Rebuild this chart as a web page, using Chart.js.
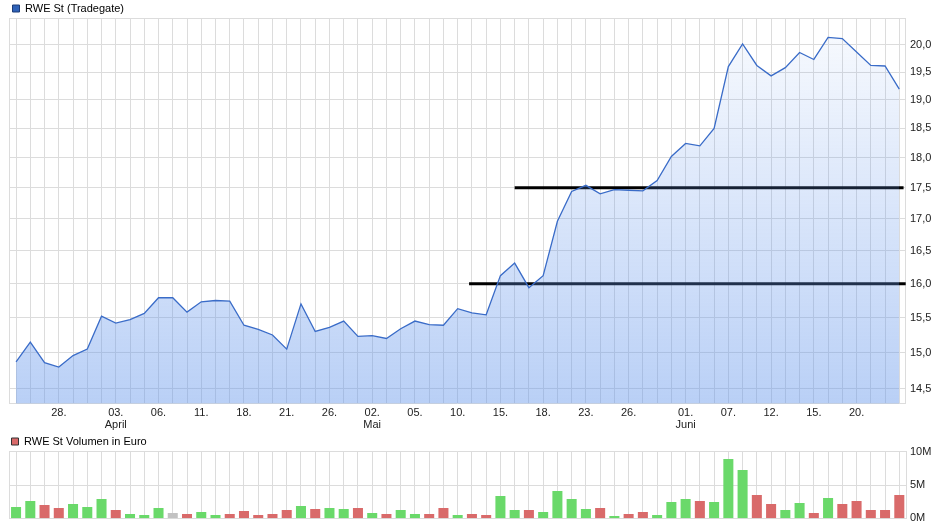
<!DOCTYPE html>
<html>
<head>
<meta charset="utf-8">
<script src="https://cdn.jsdelivr.net/npm/chart.js@4/dist/chart.umd.min.js"></script>
<style>
  body { margin: 0; background: #fff; }
  #wrap { position: relative; width: 947px; height: 530px; }
  #priceChart { position: absolute; left: 0; top: 0; }
  #volChart { position: absolute; left: 0; top: 434px; }
</style>
</head>
<body>
<div id="wrap">
  <canvas id="priceChart" width="947" height="434"></canvas>
  <canvas id="volChart" width="947" height="96"></canvas>
</div>
<script>
// trading days (Tradegate), 23.03. - 23.06.
const days = [
    '23.03.', '24.03.', '27.03.', '28.03.', '29.03.', '30.03.', '31.03.',
    '03.04.', '04.04.', '05.04.', '06.04.', '07.04.', '10.04.', '11.04.', '12.04.', '13.04.',
    '18.04.', '19.04.', '20.04.', '21.04.', '24.04.', '25.04.', '26.04.', '27.04.', '28.04.',
    '02.05.', '03.05.', '04.05.', '05.05.', '08.05.', '09.05.', '10.05.', '11.05.', '12.05.',
    '15.05.', '16.05.', '17.05.', '18.05.', '19.05.', '22.05.', '23.05.', '24.05.', '25.05.',
    '26.05.', '29.05.', '30.05.', '31.05.',
    '01.06.', '02.06.', '06.06.', '07.06.', '08.06.', '09.06.', '12.06.', '13.06.', '14.06.',
    '15.06.', '16.06.', '19.06.', '20.06.', '21.06.', '22.06.', '23.06.'
];

const price = [
    14.87, 15.15, 14.86, 14.80, 14.96, 15.05, 15.52, 15.42, 15.47, 15.56,
    15.79, 15.79, 15.58, 15.73, 15.75, 15.74, 15.39, 15.33, 15.25, 15.05,
    15.70, 15.30, 15.36, 15.45, 15.23, 15.24, 15.20, 15.34, 15.45, 15.40,
    15.39, 15.63, 15.57, 15.54, 16.12, 16.31, 15.94, 16.12, 16.96, 17.44,
    17.54, 17.40, 17.47, 17.46, 17.45, 17.62, 18.02, 18.24, 18.20, 18.50,
    19.60, 20.02, 19.62, 19.43, 19.58, 19.86, 19.73, 20.14, 20.12, 19.87,
    19.62, 19.61, 19.19
];

// volume in million euro
const volume = [
    1.7, 2.6, 2.0, 1.55, 2.15, 1.7, 2.9, 1.25, 0.65, 0.5,
    1.55, 0.8, 0.65, 0.95, 0.5, 0.65, 1.1, 0.5, 0.65, 1.25,
    1.85, 1.4, 1.55, 1.4, 1.55, 0.8, 0.65, 1.25, 0.65, 0.65,
    1.55, 0.5, 0.65, 0.5, 3.35, 1.25, 1.25, 0.95, 4.1, 2.9,
    1.4, 1.55, 0.35, 0.65, 0.95, 0.5, 2.45, 2.9, 2.6, 2.45,
    8.9, 7.25, 3.5, 2.15, 1.25, 2.3, 0.8, 3.05, 2.15, 2.6,
    1.25, 1.25, 3.5
];

const labelDays = ['28.03.', '03.04.', '06.04.', '11.04.', '18.04.', '21.04.', '26.04.',
    '02.05.', '05.05.', '10.05.', '15.05.', '18.05.', '23.05.', '26.05.',
    '01.06.', '07.06.', '12.06.', '15.06.', '20.06.'];
const monthDays = ['03.04.', '02.05.', '01.06.'];
const monthNames = ['April', 'Mai', 'Juni'];

const priceTicks = [14.5, 15.0, 15.5, 16.0, 16.5, 17.0, 17.5, 18.0, 18.5, 19.0, 19.5, 20.0];
const volTicks = [0, 5, 10];

// support lines: level, first day (fractional index), last day
const levels = [16.0, 17.5];
const levelFrom = [31.8, 35.0];
const levelTo = [62.45, 62.3];

const xMin = -0.46, xMax = 62.47;
const yMin = 14.31, yMax = 20.51;

const font = { family: "'Liberation Sans', Arial, sans-serif", size: 11 };
const gridColor = '#dcdcdc';
const green = '#6ad96a', red = '#d96a6a', grey = '#c2c2c2';

Chart.defaults.font.family = font.family;
Chart.defaults.font.size = font.size;
Chart.defaults.color = '#222';

function dayTicks(axis) {
    axis.ticks = days.map((d, i) => ({value: i}));
}

function dayLabel(value) {
    if (!Number.isInteger(value)) return '';
    const d = days[value];
    if (!d || labelDays.indexOf(d) < 0) return '';
    const txt = d.slice(0, 3);
    const m = monthDays.indexOf(d);
    return m >= 0 ? [txt, monthNames[m]] : txt;
}

function fillGradient(ctx) {
    const chart = ctx.chart;
    const area = chart.chartArea;
    if (!area) return 'rgba(100,150,235,0.3)';
    const g = chart.ctx.createLinearGradient(0, area.top, 0, area.bottom);
    g.addColorStop(0, 'rgba(100,150,235,0.04)');
    g.addColorStop(1, 'rgba(100,150,235,0.45)');
    return g;
}

// left axis without width, only its border closes the plot frame
const leftFrame = {
    position: 'left',
    grid: { display: false, drawTicks: false },
    border: { color: gridColor },
    ticks: { display: false },
    afterFit: axis => { axis.width = 0; }
};

const priceData = price.map((v, i) => ({x: i, y: v}));
const levelSets = levels.map((lv, k) => ({
    type: 'line',
    data: [{x: levelFrom[k], y: lv}, {x: levelTo[k], y: lv}],
    borderColor: '#000',
    borderWidth: 3,
    pointRadius: 0,
    fill: false
}));

new Chart(document.getElementById('priceChart'), {
    type: 'line',
    data: {
        datasets: [{
            label: 'RWE St (Tradegate)',
            data: priceData,
            borderColor: '#3a6cc8',
            borderWidth: 1.3,
            backgroundColor: fillGradient,
            fill: 'start',
            pointRadius: 0,
            tension: 0
        }].concat(levelSets)
    },
    options: {
        responsive: false,
        animation: false,
        layout: { padding: { left: 9.5, right: 11.6, top: 0, bottom: 0 } },
        plugins: {
            tooltip: { enabled: false },
            legend: {
                position: 'top',
                align: 'start',
                maxHeight: 18,
                labels: {
                    boxWidth: 7,
                    boxHeight: 7,
                    padding: 3,
                    font: font,
                    generateLabels: () => [{
                        text: 'RWE St (Tradegate)',
                        fillStyle: '#2f62b8',
                        strokeStyle: '#1c3c78',
                        lineWidth: 1,
                        datasetIndex: 0
                    }]
                }
            }
        },
        scales: {
            x: {
                type: 'linear',
                min: xMin,
                max: xMax,
                afterBuildTicks: dayTicks,
                grid: { color: gridColor, drawTicks: false },
                border: { color: gridColor },
                ticks: {
                    autoSkip: false,
                    maxRotation: 0,
                    padding: 3,
                    font: { size: 11, lineHeight: 1.1 },
                    callback: dayLabel
                }
            },
            yl: Object.assign({ type: 'logarithmic', min: yMin, max: yMax }, leftFrame),
            y: {
                type: 'logarithmic',
                position: 'right',
                min: yMin,
                max: yMax,
                afterBuildTicks: axis => {
                    axis.ticks = priceTicks.map(v => ({value: v})).concat([{value: yMax}]);
                },
                grid: { color: gridColor, drawTicks: false },
                border: { color: gridColor },
                ticks: {
                    padding: 4,
                    font: font,
                    callback: v => priceTicks.indexOf(v) >= 0 ? v.toFixed(1).replace('.', ',') : ''
                }
            }
        }
    }
});

new Chart(document.getElementById('volChart'), {
    type: 'bar',
    data: {
        datasets: [{
            label: 'RWE St Volumen in Euro',
            data: volume.map((v, i) => ({x: i, y: v})),
            backgroundColor: volume.map((v, i) => {
                if (i === 0) return green;
                const d = price[i] - price[i - 1];
                return d > 0 ? green : (d < 0 ? red : grey);
            }),
            categoryPercentage: 0.8,
            barPercentage: 0.88
        }]
    },
    options: {
        responsive: false,
        animation: false,
        layout: { padding: { left: 9.5, right: 11.6, top: 0, bottom: 11.7 } },
        plugins: {
            tooltip: { enabled: false },
            legend: {
                position: 'top',
                align: 'start',
                maxHeight: 17.7,
                labels: {
                    boxWidth: 7,
                    boxHeight: 7,
                    padding: 2,
                    font: font,
                    generateLabels: () => [{
                        text: 'RWE St Volumen in Euro',
                        fillStyle: red,
                        strokeStyle: '#333',
                        lineWidth: 1,
                        datasetIndex: 0
                    }]
                }
            }
        },
        scales: {
            x: {
                type: 'linear',
                min: xMin,
                max: xMax,
                offset: false,
                afterBuildTicks: dayTicks,
                grid: { color: gridColor, drawTicks: false, offset: false },
                border: { color: gridColor },
                ticks: { display: false }
            },
            yl: Object.assign({ min: 0, max: 10 }, leftFrame),
            y: {
                position: 'right',
                min: 0,
                max: 10,
                afterBuildTicks: axis => {
                    axis.ticks = volTicks.map(v => ({value: v}));
                },
                grid: { color: gridColor, drawTicks: false },
                border: { color: gridColor },
                ticks: {
                    padding: 4,
                    font: font,
                    callback: v => v + 'M'
                }
            }
        }
    }
});
</script>
</body>
</html>
